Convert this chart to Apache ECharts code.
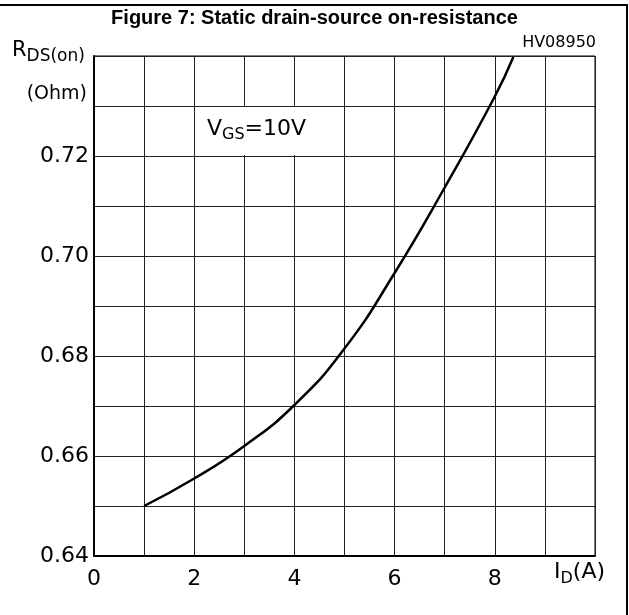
<!DOCTYPE html>
<html>
<head>
<meta charset="utf-8">
<script src="https://cdn.jsdelivr.net/npm/echarts@6/dist/echarts.min.js"></script>
<style>
  html, body { margin: 0; padding: 0; background: #fff; }
  #chart { width: 629px; height: 615px; }
</style>
</head>
<body>
<div id="chart"></div>
<script>
// drain current I_D (A) and R_DS(on) (Ohm)
var currentA = [1, 2, 3, 4, 5, 6, 7, 8, 8.37];
var resistance = [0.650, 0.6555, 0.662, 0.6702, 0.6815, 0.6966, 0.7137, 0.7319, 0.7398];
var xLabels = [0, 2, 4, 6, 8];
var yLabels = ['0.64', '0.66', '0.68', '0.70', '0.72'];

var labelFont = 'DejaVu Sans';

var chart = echarts.init(document.getElementById('chart'));

var seriesData = [];
for (var i = 0; i < currentA.length; i++) {
  seriesData.push([currentA[i], resistance[i]]);
}

var option = {
  animation: false,
  backgroundColor: '#fff',
  grid: {
    left: 94, top: 56, width: 501, height: 500,
    show: true, borderColor: '#000', borderWidth: 1
  },
  xAxis: {
    type: 'value', min: 0, max: 10, interval: 1,
    axisLine: { show: true, onZero: false, lineStyle: { color: '#000', width: 2 } },
    axisTick: { show: false },
    splitLine: { show: true, lineStyle: { color: '#222', width: 1 } },
    axisLabel: {
      margin: 12, color: '#000', fontFamily: labelFont, fontSize: 22,
      formatter: function(v) {
        return xLabels.indexOf(v) >= 0 ? String(v) : '';
      }
    }
  },
  yAxis: {
    type: 'value', min: 0.64, max: 0.74, interval: 0.01,
    axisLine: { show: true, onZero: false, lineStyle: { color: '#000', width: 2 } },
    axisTick: { show: false },
    splitLine: { show: true, lineStyle: { color: '#222', width: 1 } },
    axisLabel: {
      margin: 5, color: '#000', fontFamily: labelFont, fontSize: 22,
      formatter: function(v) {
        var s = v.toFixed(2);
        return yLabels.indexOf(s) >= 0 ? s : '';
      }
    }
  },
  series: [{
    type: 'line',
    data: seriesData,
    smooth: 0.5,
    showSymbol: false,
    lineStyle: { color: '#000', width: 2.5 }
  }],
  graphic: [
    // outer frame (top and right edges)
    { type: 'rect', shape: { x: -3, y: 5, width: 630, height: 620 },
      style: { fill: 'none', stroke: '#000', lineWidth: 2 } },
    { type: 'text', left: 'center', top: 8,
      style: { text: 'Figure 7: Static drain-source on-resistance', fill: '#000',
        font: 'bold 20px "Liberation Sans", Arial, sans-serif' } },
    { type: 'text', x: 596, y: 43,
      style: { text: 'HV08950', fill: '#000', align: 'right', verticalAlign: 'middle',
        font: '16px "DejaVu Sans", sans-serif' } },
    { type: 'text', x: 12, y: 40,
      style: {
        text: '{m|R}{s|DS(on)}', fill: '#000',
        rich: {
          m: { fontFamily: labelFont, fontSize: 21, lineHeight: 22 },
          s: { fontFamily: labelFont, fontSize: 17, padding: [11, 0, 0, 0], lineHeight: 22 }
        }
      } },
    { type: 'text', x: 87, y: 94,
      style: { text: '(Ohm)', fill: '#000', align: 'right', verticalAlign: 'middle',
        font: '19px "DejaVu Sans", sans-serif' } },
    { type: 'text', x: 554, y: 561,
      style: {
        text: '{m|I}{s|D}{m|(A)}', fill: '#000',
        rich: {
          m: { fontFamily: labelFont, fontSize: 22, lineHeight: 22 },
          s: { fontFamily: labelFont, fontSize: 16, padding: [13, 0, 0, 0], lineHeight: 22 }
        }
      } },
    // white box behind the V_GS note, hiding the grid lines under it
    { type: 'rect', z: 50, shape: { x: 200, y: 107, width: 140, height: 48 },
      style: { fill: '#fff' } },
    { type: 'text', z: 51, x: 207, y: 118,
      style: {
        text: '{m|V}{s|GS}{m|=10V}', fill: '#000',
        rich: {
          m: { fontFamily: labelFont, fontSize: 22, lineHeight: 22 },
          s: { fontFamily: labelFont, fontSize: 16, padding: [11, 0, 0, 0], lineHeight: 22 }
        }
      } }
  ]
};

chart.setOption(option);
</script>
</body>
</html>
